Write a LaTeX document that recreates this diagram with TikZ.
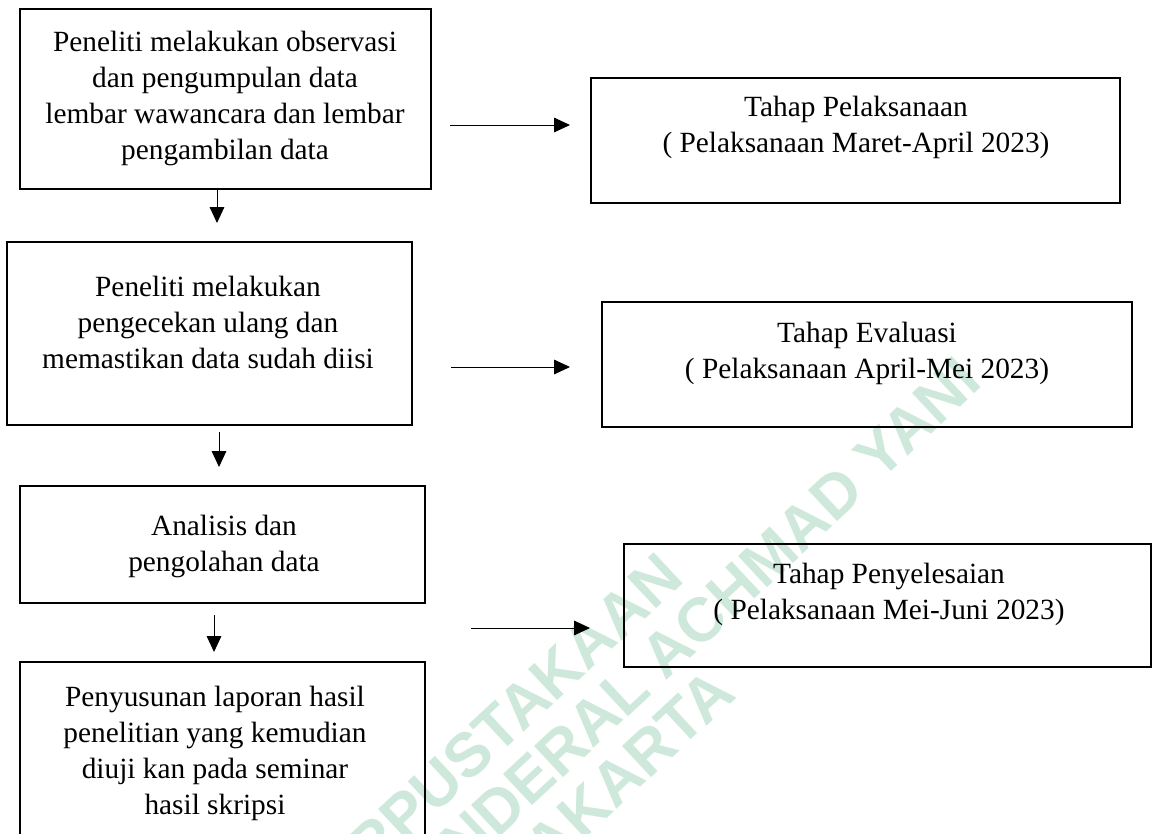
\documentclass[tikz,border=0pt]{standalone}
\usepackage{fontspec}
\setmainfont{Liberation Serif}
\newfontfamily\wmfont{Liberation Sans}
\usetikzlibrary{arrows.meta}
\definecolor{wmgreen}{RGB}{206,233,219}
\tikzset{
  box/.style={draw=black, line width=1.5pt, rectangle, inner sep=0pt},
  txt/.style={align=center, inner sep=0pt, font=\fontsize{22}{27}\selectfont},
  arr/.style={line width=0.75pt, -{Triangle[length=12pt,width=11pt]}},
  wm/.style={align=center, inner sep=0pt, text=wmgreen,
    font=\wmfont\bfseries\fontsize{46.5}{45}\selectfont}
}
\begin{document}
\begin{tikzpicture}[x=0.75pt,y=-0.75pt]
\useasboundingbox (0,0) rectangle (1153,833);
\clip (0,0) rectangle (1153,833);
% watermark
\node[wm, rotate=43] (wmark) at (525,784) {PERPUSTAKAAN\\UNIVERSITAS JENDERAL ACHMAD YANI\\YOGYAKARTA};
% left column boxes
\node[box, minimum width=308.25pt, minimum height=135pt] (b1) at (225.5,99) {};
\node[box, minimum width=303.75pt, minimum height=137.25pt] (b2) at (209.5,333.5) {};
\node[box, minimum width=303.75pt, minimum height=87.75pt] (b3) at (222.5,544.5) {};
\node[box, minimum width=303.75pt, minimum height=178.5pt] (b4) at (222.5,781) {};
% right column boxes
\node[box, minimum width=396.75pt, minimum height=93.75pt] (bp) at (855.5,140.5) {};
\node[box, minimum width=397.5pt, minimum height=93.75pt] (be) at (867,364.5) {};
\node[box, minimum width=395.25pt, minimum height=92.25pt] (bs) at (887.5,605.5) {};
% texts
\node[txt] (t1) at (225,98) {Peneliti melakukan observasi\\dan pengumpulan data\\lembar wawancara dan lembar\\pengambilan data};
\node[txt] (t2) at (208,322) {Peneliti melakukan\\pengecekan ulang dan\\memastikan data sudah diisi};
\node[txt] (t3) at (224,546) {Analisis dan\\pengolahan data};
\node[txt] (t4) at (215,753) {Penyusunan laporan hasil\\penelitian yang kemudian\\diuji kan pada seminar\\hasil skripsi};
\node[txt] (tp) at (856,127) {Tahap Pelaksanaan\\( Pelaksanaan Maret-April 2023)};
\node[txt] (te) at (867,353) {Tahap Evaluasi\\( Pelaksanaan April-Mei 2023)};
\node[txt] (ts) at (889,594) {Tahap Penyelesaian\\( Pelaksanaan Mei-Juni 2023)};
% arrow end points
\coordinate (a1s) at (217,189);
\coordinate (a1e) at (217,223);
\coordinate (a2s) at (219,432);
\coordinate (a2e) at (219,467);
\coordinate (a3s) at (214,615);
\coordinate (a3e) at (214,652);
\coordinate (r1s) at (450,125);
\coordinate (r1e) at (570,125);
\coordinate (r2s) at (451,367);
\coordinate (r2e) at (570,367);
\coordinate (r3s) at (471,628);
\coordinate (r3e) at (590,628);
% arrows
\draw[arr] (a1s) -- (a1e);
\draw[arr] (a2s) -- (a2e);
\draw[arr] (a3s) -- (a3e);
\draw[arr] (r1s) -- (r1e);
\draw[arr] (r2s) -- (r2e);
\draw[arr] (r3s) -- (r3e);
\end{tikzpicture}
\end{document}
